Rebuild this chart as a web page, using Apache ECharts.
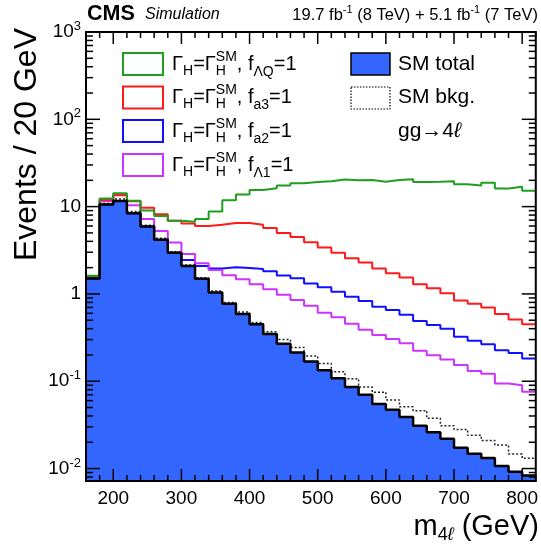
<!DOCTYPE html>
<html><head><meta charset="utf-8">
<script src="https://cdn.jsdelivr.net/npm/echarts@6/dist/echarts.min.js"></script>
<style>html,body{margin:0;padding:0;background:#fff}#c{width:541px;height:550px}</style>
</head><body><div id="c"></div>
<script>
// ---------- data (m4l bins of 20 GeV, lower edges) ----------
const binLow = [160,180,200,220,240,260,280,300,320,340,360,380,400,420,440,460,480,500,520,540,560,580,600,620,640,660,680,700,720,740,760,780,800];
const binWidth = 20;
const smTotal = [1.5,10.6,11.6,8.4,5.9,4.16,2.97,2.09,1.49,1.04,0.77,0.59,0.45,0.347,0.268,0.214,0.168,0.134,0.108,0.086,0.070,0.055,0.047,0.039,0.031,0.026,0.022,0.0173,0.0148,0.0132,0.0107,0.0092,0.0083];
const smBkg = [1.52,10.9,12.2,8.8,6.1,4.35,3.05,2.15,1.53,1.08,0.80,0.62,0.47,0.37,0.30,0.244,0.195,0.160,0.128,0.107,0.086,0.075,0.061,0.051,0.046,0.0376,0.031,0.028,0.024,0.021,0.0186,0.0147,0.0131];
const fLQ = [1.62,12.4,14.2,11.7,9.0,7.8,6.9,6.7,7.2,8.8,11.8,13.8,15.5,16.2,17.4,18.5,19.2,19.5,20.4,20.0,20.2,19.3,20.2,20.6,19.2,19.3,19.5,18.0,17.5,18.8,16.1,16.9,15.2];
const fa3 = [1.6,11.9,13.5,11.5,9.7,8.2,6.9,6.4,6.0,6.2,6.5,6.5,6.2,5.7,5.0,4.5,3.9,3.4,2.97,2.56,2.29,1.95,1.72,1.54,1.29,1.16,1.02,0.84,0.77,0.70,0.59,0.51,0.45];
const fa2 = [1.5,10.6,11.6,8.4,5.9,4.16,2.97,2.45,2.09,1.95,2.02,1.98,1.93,1.82,1.63,1.51,1.32,1.19,1.06,0.93,0.83,0.715,0.655,0.578,0.49,0.44,0.40,0.323,0.291,0.266,0.227,0.21,0.182];
const fL1 = [1.6,11.6,13.6,10.4,7.2,5.27,3.87,2.87,2.25,1.88,1.64,1.47,1.29,1.13,0.98,0.85,0.73,0.61,0.54,0.455,0.39,0.338,0.304,0.273,0.223,0.199,0.177,0.153,0.131,0.122,0.094,0.090,0.076];
const xTickLabels = [200,300,400,500,600,700,800];
const xMin = 160, xMax = 820, xMinorStep = 20;
const yMin = 0.0072, yMax = 1000;

const FONT = '"Liberation Sans", Arial, Helvetica, sans-serif';
const C_GREEN = '#1f9e1f', C_RED = '#ff1a1a', C_BLUE = '#1010ff', C_MAG = '#cc33ff', C_FILL = '#3366ff';

function toStep(vals){
  const d = binLow.map((x,i)=>[x, vals[i]]);
  d.push([binLow[binLow.length-1]+binWidth, vals[vals.length-1]]);
  return d;
}

// ---------- text helpers ----------
const ctx = document.createElement('canvas').getContext('2d');
function measure(t, size, weight, style){
  ctx.font = (style||'normal') + ' ' + (weight||'normal') + ' ' + size + 'px ' + FONT;
  return ctx.measureText(t).width;
}
function textRun(x, y, tokens, align){
  let w = 0; const items = [];
  tokens.forEach(tk => {
    if (tk.stack) {
      let mw = 0;
      tk.stack.forEach(s => { mw = Math.max(mw, measure(s.t, s.size)); items.push(Object.assign({}, s, {x: w})); });
      w += mw;
    } else {
      items.push(Object.assign({}, tk, {x: w}));
      w += measure(tk.t, tk.size, tk.weight, tk.style);
    }
  });
  const x0 = align === 'right' ? x - w : x;
  return items.map(it => ({
    type:'text', x: x0 + it.x, y: y + (it.dy||0), silent:true, z: 100,
    style:{text: it.t, fontSize: it.size, fontFamily: FONT, fontWeight: it.weight||'normal', fontStyle: it.style||'normal',
      fill: '#000', align:'left', verticalAlign:'middle'}
  }));
}

const M = 20, S = 14;
function gammaLabel(sub){
  return [
    {t:'\u0393', size:M}, {t:'H', size:S, dy:7},
    {t:'=\u0393', size:M},
    {stack:[{t:'SM', size:S, dy:-7}, {t:'H', size:S, dy:7}]},
    {t:', f', size:M}, {t:sub, size:S, dy:8}, {t:'=1', size:M}
  ];
}

const graphics = [];
// header
graphics.push(...textRun(87, 14, [{t:'CMS', size:21.5, weight:'bold'}], 'left'));
graphics.push(...textRun(145, 15, [{t:'Simulation', size:16, style:'italic'}], 'left'));
graphics.push(...textRun(538, 15, [
  {t:'19.7 fb', size:16.5}, {t:'-1', size:11, dy:-5}, {t:' (8 TeV) + 5.1 fb', size:16.5}, {t:'-1', size:11, dy:-5}, {t:' (7 TeV)', size:16.5}
], 'right'));

// legend
const legRows = [
  {y:64, color:C_GREEN, sub:'\u039BQ'},
  {y:97.5, color:C_RED, sub:'a3'},
  {y:131, color:C_BLUE, sub:'a2'},
  {y:165, color:C_MAG, sub:'\u039B1'}
];
legRows.forEach(r => {
  graphics.push({type:'rect', z:100, silent:true, shape:{x:123, y:r.y-11, width:40, height:22}, style:{fill:'#fff', stroke:r.color, lineWidth:2}});
  graphics.push(...textRun(172, r.y, gammaLabel(r.sub), 'left'));
});
graphics.push({type:'rect', z:100, silent:true, shape:{x:351, y:53, width:39, height:22}, style:{fill:C_FILL, stroke:'#000', lineWidth:1.5}});
graphics.push(...textRun(398, 64, [{t:'SM total', size:21}], 'left'));
graphics.push({type:'rect', z:100, silent:true, shape:{x:351, y:87, width:39, height:22}, style:{fill:'#fff', stroke:'#000', lineWidth:1.2, lineDash:[1.5,1.5]}});
graphics.push(...textRun(398, 97.5, [{t:'SM bkg.', size:21}], 'left'));
graphics.push(...textRun(398, 131, [{t:'gg\u21924', size:21}, {t:'\u2113', size:21, style:'italic'}], 'left'));

// axis titles
graphics.push(...textRun(539, 527, [{t:'m', size:29}, {t:'4', size:18, dy:8}, {t:'\u2113', size:18, dy:8, style:'italic'}, {t:' (GeV)', size:29}], 'right'));
graphics.push({type:'text', x:27, y:28, rotation: Math.PI/2, silent:true, z:100,
  style:{text:'Events / 20 GeV', fontSize:32, fontFamily:FONT, fill:'#000', align:'right', verticalAlign:'middle'}});

// ---------- frame & ticks via custom series ----------
function frameRender(params, api){
  const cs = params.coordSys;
  const x0 = cs.x, x1 = cs.x + cs.width, y0 = cs.y, y1 = cs.y + cs.height;
  const ch = [];
  const st = {stroke:'#000', lineWidth:1.5};
  for (let v = xMin; v <= xMax; v += xMinorStep) {
    const px = api.coord([v, 1])[0];
    const len = (xTickLabels.indexOf(v) >= 0) ? 12 : 6;
    ch.push({type:'line', shape:{x1:px, y1:y1, x2:px, y2:y1-len}, style:st});
    ch.push({type:'line', shape:{x1:px, y1:y0, x2:px, y2:y0+len}, style:st});
  }
  for (let e = -3; e <= 3; e++) {
    for (let m = 1; m <= 9; m++) {
      const v = m * Math.pow(10, e);
      if (v < yMin || v > yMax * 1.0001) continue;
      const py = api.coord([xMin, v])[1];
      const len = m === 1 ? 14 : 7;
      ch.push({type:'line', shape:{x1:x0, y1:py, x2:x0+len, y2:py}, style:st});
      ch.push({type:'line', shape:{x1:x1, y1:py, x2:x1-len, y2:py}, style:st});
    }
  }
  ch.push({type:'rect', shape:{x:x0, y:y0, width:cs.width, height:cs.height}, style:{fill:null, stroke:'#000', lineWidth:2}});
  return {type:'group', children: ch};
}

function lineSeries(name, vals, color, width, dash, z){
  return {type:'line', name, data: toStep(vals), step:'end', symbol:'none', silent:true, z: z||3,
    lineStyle:{color, width, type: dash||'solid'}, animation:false};
}

const chart = echarts.init(document.getElementById('c'), null, {renderer:'canvas'});
chart.setOption({
  animation:false,
  backgroundColor:'#fff',
  grid:{left:86, right:1, top:32, bottom:69},
  xAxis:{type:'value', min:xMin, max:xMax, interval:xMinorStep,
    axisLine:{show:false}, axisTick:{show:false}, splitLine:{show:false},
    axisLabel:{margin:8, fontSize:19, fontFamily:FONT, color:'#000',
      formatter: v => (xTickLabels.indexOf(v) >= 0 ? String(v) : '')}},
  yAxis:{type:'log', logBase:10, min:yMin, max:yMax,
    axisLine:{show:false}, axisTick:{show:false}, splitLine:{show:false}, minorTick:{show:false},
    axisLabel:{margin:5, color:'#000',
      formatter: v => {
        const l = Math.log10(v), e = Math.round(l);
        if (Math.abs(l - e) > 1e-6) return '';
        if (e === 0) return '{b|1}';
        if (e === 1) return '{b|10}';
        return '{b|10}{s|' + e + '}';
      },
      rich:{b:{fontSize:19, fontFamily:FONT, color:'#000', lineHeight:24}, s:{fontSize:13, fontFamily:FONT, color:'#000', verticalAlign:'top', lineHeight:14}}}},
  graphic: graphics,
  series:[
    {type:'line', name:'SM total fill', data: toStep(smTotal), step:'end', symbol:'none', silent:true, z:2,
      lineStyle:{width:0, color:C_FILL}, areaStyle:{color:C_FILL, opacity:1, origin:'start'}},
    lineSeries('fa2', fa2, C_BLUE, 2),
    lineSeries('fL1', fL1, C_MAG, 2),
    lineSeries('fa3', fa3, C_RED, 2),
    lineSeries('fLQ', fLQ, C_GREEN, 2),
    lineSeries('SM bkg', smBkg, '#222', 1.5, [2,2]),
    lineSeries('SM total', smTotal, '#000', 2.5),
    {type:'custom', data:[[200,1]], renderItem: frameRender, silent:true, z:20, animation:false}
  ]
});
</script></body></html>
